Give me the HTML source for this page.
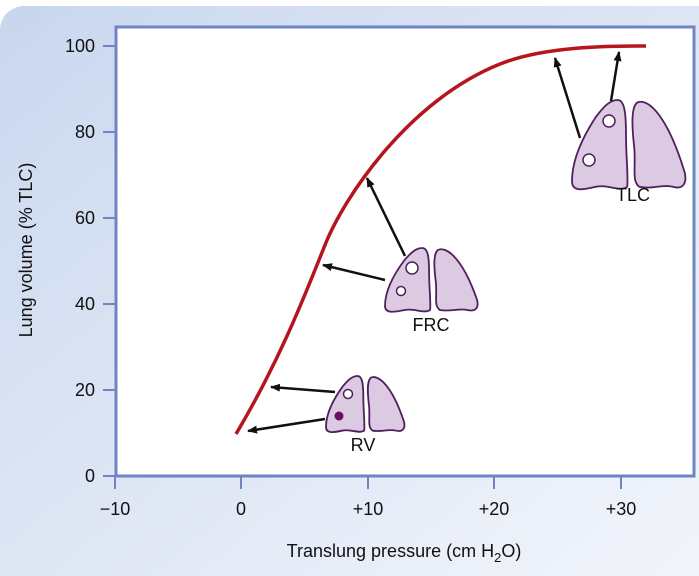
<!DOCTYPE html>
<html><head><meta charset="utf-8"><style>
html,body{margin:0;padding:0;background:#fff;overflow:hidden;width:699px;height:576px}
svg{display:block}
text{font-family:"Liberation Sans",sans-serif;fill:#111}
</style></head><body>
<svg width="699" height="576" viewBox="0 0 699 576">
<defs>
<linearGradient id="bg" x1="0" y1="0" x2="1" y2="1">
<stop offset="0" stop-color="#c9d7ee"/><stop offset="0.6" stop-color="#e2e9f6"/><stop offset="1" stop-color="#f2f5fb"/>
</linearGradient>
<marker id="ah" markerWidth="10" markerHeight="8" refX="9" refY="4" orient="auto" markerUnits="userSpaceOnUse">
<path d="M0,0 L10,4 L0,8 Z" fill="#111"/></marker>
<g id="lungs">
<path d="M38,0 C44,0 45,10 45,25 C45,40 47,55 46,62 C40,66 30,60 20,62 C10,64 0,66 0,58 C0,42 10,25 20,12 C27,4 32,0 38,0Z" fill="#dcc9e2" stroke="#4f1f5e" stroke-width="1.8" vector-effect="non-scaling-stroke"/>
<path d="M54,2 C49,6 50,20 52,35 C53,50 50,58 56,62 C66,64 76,60 84,62 C92,64 96,60 94,52 C88,35 80,18 70,8 C64,2 58,0 54,2Z" fill="#dcc9e2" stroke="#4f1f5e" stroke-width="1.8" vector-effect="non-scaling-stroke"/>
</g>
</defs>
<rect x="0" y="6" width="699" height="570" fill="url(#bg)"/>
<rect x="0" y="0" width="30" height="30" fill="#fff"/>
<path d="M0,30 A24,24 0 0 1 24,6 L40,6 L40,30 Z" fill="#c9d7ee"/>
<rect x="116" y="27" width="578" height="449" fill="#fff" stroke="#6f84c4" stroke-width="3"/>
<g stroke="#6f84c4" stroke-width="2">
<line x1="103" y1="46" x2="115" y2="46"/><line x1="103" y1="132" x2="115" y2="132"/>
<line x1="103" y1="218" x2="115" y2="218"/><line x1="103" y1="304" x2="115" y2="304"/>
<line x1="103" y1="390" x2="115" y2="390"/><line x1="103" y1="476" x2="115" y2="476"/>
<line x1="115" y1="477" x2="115" y2="489"/><line x1="241" y1="477" x2="241" y2="489"/>
<line x1="368" y1="477" x2="368" y2="489"/><line x1="494" y1="477" x2="494" y2="489"/>
<line x1="621" y1="477" x2="621" y2="489"/>
</g>
<g font-size="18" text-anchor="end">
<text x="95" y="52">100</text><text x="95" y="138">80</text><text x="95" y="224">60</text>
<text x="95" y="310">40</text><text x="95" y="396">20</text><text x="95" y="482">0</text>
</g>
<g font-size="18" text-anchor="middle">
<text x="115" y="515">−10</text><text x="241" y="515">0</text><text x="368" y="515">+10</text>
<text x="494" y="515">+20</text><text x="621" y="515">+30</text>
</g>
<text x="404" y="557" font-size="18" text-anchor="middle">Translung pressure (cm H<tspan font-size="13" dy="5">2</tspan><tspan dy="-5">O)</tspan></text>
<text transform="translate(32,250) rotate(-90)" font-size="18" text-anchor="middle">Lung volume (% TLC)</text>
<path d="M236,434 C280,360 305,295 325,245 C345,195 410,100 500,64 C545,46 610,46 646,46" fill="none" stroke="#b5161e" stroke-width="3.5"/>
<use href="#lungs" transform="translate(326,376) scale(0.83,0.88)"/>
<use href="#lungs" transform="translate(385,248) scale(0.98,1)"/>
<use href="#lungs" transform="translate(572,100) scale(1.2,1.4)"/>
<circle cx="348" cy="394" r="4.5" fill="#fff" stroke="#4f1f5e" stroke-width="1.5"/>
<circle cx="339" cy="416" r="4.5" fill="#6b1060"/>
<circle cx="412" cy="268" r="6" fill="#fff" stroke="#4f1f5e" stroke-width="1.5"/>
<circle cx="401" cy="291" r="4.5" fill="#fff" stroke="#4f1f5e" stroke-width="1.5"/>
<circle cx="609" cy="121" r="6" fill="#fff" stroke="#4f1f5e" stroke-width="1.5"/>
<circle cx="589" cy="160" r="6" fill="#fff" stroke="#4f1f5e" stroke-width="1.5"/>
<g stroke="#111" stroke-width="2.5" marker-end="url(#ah)">
<line x1="335" y1="392" x2="271" y2="387"/>
<line x1="325" y1="419" x2="248" y2="431"/>
<line x1="385" y1="280" x2="323" y2="265"/>
<line x1="405" y1="256" x2="367" y2="178"/>
<line x1="580" y1="138" x2="555" y2="58"/>
<line x1="611" y1="101" x2="619" y2="52"/>
</g>
<g font-size="18" text-anchor="middle">
<text x="363" y="451">RV</text><text x="431" y="331">FRC</text><text x="633" y="201">TLC</text>
</g>
</svg>
</body></html>
